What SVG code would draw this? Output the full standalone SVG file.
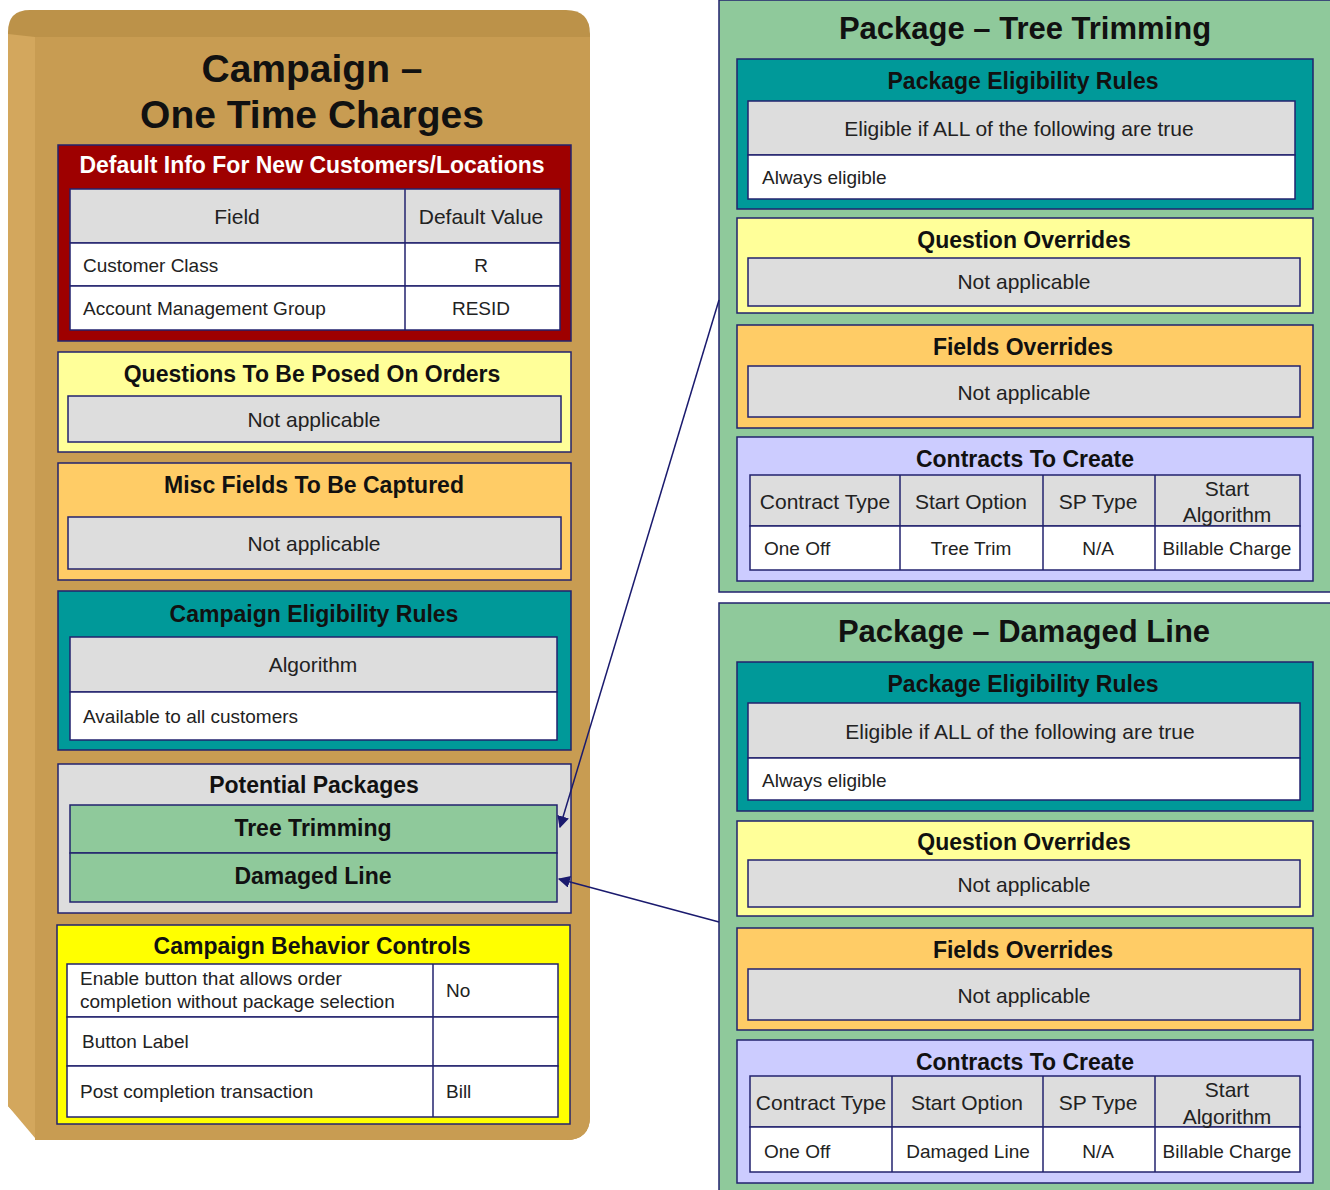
<svg xmlns="http://www.w3.org/2000/svg" width="1330" height="1190" viewBox="0 0 1330 1190">
<defs>
<style>
text{font-family:"Liberation Sans",Arial,sans-serif;dominant-baseline:central}
.ttl{font-size:23px;font-weight:bold;fill:#111;text-anchor:middle}
.big{font-size:39px;font-weight:bold;fill:#111;text-anchor:middle}
.pk{font-size:31px;font-weight:bold;fill:#111;text-anchor:middle}
.hd{font-size:21px;fill:#222;text-anchor:middle}
.bd{font-size:19px;fill:#222}
.bdc{font-size:19px;fill:#222;text-anchor:middle}
.bx{stroke:#22226e;stroke-width:1.5}
.gray{fill:#DDDDDD}
.white{fill:#FFFFFF}
.ly{fill:#FFFF99}
.or{fill:#FFCC66}
.teal{fill:#009999}
.grn{fill:#8FC99B}
.lav{fill:#CCCCFF}
.conn{stroke:#1a1a6e;stroke-width:1.5;fill:none}
</style>
<marker id="ah" viewBox="0 0 10 10" refX="9" refY="5" markerWidth="12" markerHeight="12" markerUnits="userSpaceOnUse" orient="auto">
<path d="M0,0 L10,5 L0,10 Z" fill="#1a1a6e"/>
</marker>
</defs>

<g id="campaign">
<path d="M30 10 L566 10 Q590 10 590 34 L590 1116 Q590 1140 566 1140 L42 1140 L8 1106 L8 32 Q8 10 30 10 Z" fill="#BC9249"/>
<path d="M8 34 L35 37 L35 1138 L8 1106 Z" fill="#D3A75D"/>
<path d="M35 37 L590 37 L590 1116 Q590 1140 566 1140 L35 1140 Z" fill="#C89C52"/>
<text class="big" x="312" y="68">Campaign –</text>
<text class="big" x="312" y="114">One Time Charges</text>
</g>

<g id="default-info">
<rect class="bx" x="58" y="145" width="513" height="196" fill="#9E0000"/>
<text class="ttl" x="312" y="165" style="fill:#fff">Default Info For New Customers/Locations</text>
<rect class="bx gray" x="70" y="189" width="490" height="54"/>
<rect class="bx white" x="70" y="243" width="490" height="43"/>
<rect class="bx white" x="70" y="286" width="490" height="44"/>
<line class="bx" x1="405" y1="189" x2="405" y2="330"/>
<text class="hd" x="237" y="216">Field</text>
<text class="hd" x="481" y="216">Default Value</text>
<text class="bd" x="83" y="265">Customer Class</text>
<text class="bdc" x="481" y="265">R</text>
<text class="bd" x="83" y="308">Account Management Group</text>
<text class="bdc" x="481" y="308">RESID</text>
</g>

<g id="questions">
<rect class="bx ly" x="58" y="352" width="513" height="100"/>
<text class="ttl" x="312" y="374">Questions To Be Posed On Orders</text>
<rect class="bx gray" x="68" y="396" width="493" height="46"/>
<text class="hd" x="314" y="419">Not applicable</text>
</g>

<g id="misc-fields">
<rect class="bx or" x="58" y="463" width="513" height="117"/>
<text class="ttl" x="314" y="485">Misc Fields To Be Captured</text>
<rect class="bx gray" x="68" y="517" width="493" height="52"/>
<text class="hd" x="314" y="543">Not applicable</text>
</g>

<g id="campaign-eligibility">
<rect class="bx teal" x="58" y="591" width="513" height="159"/>
<text class="ttl" x="314" y="614">Campaign Eligibility Rules</text>
<rect class="bx gray" x="70" y="637" width="487" height="55"/>
<rect class="bx white" x="70" y="692" width="487" height="48"/>
<text class="hd" x="313" y="664">Algorithm</text>
<text class="bd" x="83" y="716">Available to all customers</text>
</g>

<g id="potential-packages">
<rect class="bx gray" x="58" y="764" width="513" height="149"/>
<text class="ttl" x="314" y="785">Potential Packages</text>
<rect class="bx grn" x="70" y="805" width="487" height="48"/>
<rect class="bx grn" x="70" y="853" width="487" height="49"/>
<text class="ttl" x="313" y="828">Tree Trimming</text>
<text class="ttl" x="313" y="876">Damaged Line</text>
</g>

<g id="behavior-controls">
<rect class="bx" x="57" y="925" width="513" height="199" fill="#FFFF00"/>
<text class="ttl" x="312" y="946">Campaign Behavior Controls</text>
<rect class="bx white" x="67" y="964" width="491" height="53"/>
<rect class="bx white" x="67" y="1017" width="491" height="49"/>
<rect class="bx white" x="67" y="1066" width="491" height="51"/>
<line class="bx" x1="433" y1="964" x2="433" y2="1117"/>
<text class="bd" x="80" y="978">Enable button that allows order</text>
<text class="bd" x="80" y="1001">completion without package selection</text>
<text class="bd" x="446" y="990">No</text>
<text class="bd" x="82" y="1041">Button Label</text>
<text class="bd" x="80" y="1091">Post completion transaction</text>
<text class="bd" x="446" y="1091">Bill</text>
</g>

<g id="package-tree-trimming">
<rect class="bx grn" x="719" y="0" width="615" height="592"/>
<text class="pk" x="1025" y="28">Package – Tree Trimming</text>
<rect class="bx teal" x="737" y="59" width="576" height="150"/>
<text class="ttl" x="1023" y="81">Package Eligibility Rules</text>
<rect class="bx gray" x="748" y="101" width="547" height="54"/>
<rect class="bx white" x="748" y="155" width="547" height="44"/>
<text class="hd" x="1019" y="128">Eligible if ALL of the following are true</text>
<text class="bd" x="762" y="177">Always eligible</text>
<rect class="bx ly" x="737" y="218" width="576" height="95"/>
<text class="ttl" x="1024" y="240">Question Overrides</text>
<rect class="bx gray" x="748" y="258" width="552" height="48"/>
<text class="hd" x="1024" y="281">Not applicable</text>
<rect class="bx or" x="737" y="325" width="576" height="103"/>
<text class="ttl" x="1023" y="347">Fields Overrides</text>
<rect class="bx gray" x="748" y="366" width="552" height="51"/>
<text class="hd" x="1024" y="392">Not applicable</text>
<rect class="bx lav" x="737" y="437" width="576" height="144"/>
<text class="ttl" x="1025" y="459">Contracts To Create</text>
<rect class="bx gray" x="750" y="475" width="550" height="51"/>
<rect class="bx white" x="750" y="526" width="550" height="44"/>
<line class="bx" x1="900" y1="475" x2="900" y2="570"/>
<line class="bx" x1="1043" y1="475" x2="1043" y2="570"/>
<line class="bx" x1="1155" y1="475" x2="1155" y2="570"/>
<text class="hd" x="825" y="501">Contract Type</text>
<text class="hd" x="971" y="501">Start Option</text>
<text class="hd" x="1098" y="501">SP Type</text>
<text class="hd" x="1227" y="488">Start</text>
<text class="hd" x="1227" y="514">Algorithm</text>
<text class="bd" x="764" y="548">One Off</text>
<text class="bdc" x="971" y="548">Tree Trim</text>
<text class="bdc" x="1098" y="548">N/A</text>
<text class="bdc" x="1227" y="548">Billable Charge</text>
</g>

<g id="package-damaged-line">
<rect class="bx grn" x="719" y="603" width="615" height="592"/>
<text class="pk" x="1024" y="631">Package – Damaged Line</text>
<rect class="bx teal" x="737" y="662" width="576" height="149"/>
<text class="ttl" x="1023" y="684">Package Eligibility Rules</text>
<rect class="bx gray" x="748" y="703" width="552" height="55"/>
<rect class="bx white" x="748" y="758" width="552" height="42"/>
<text class="hd" x="1020" y="731">Eligible if ALL of the following are true</text>
<text class="bd" x="762" y="780">Always eligible</text>
<rect class="bx ly" x="737" y="821" width="576" height="95"/>
<text class="ttl" x="1024" y="842">Question Overrides</text>
<rect class="bx gray" x="748" y="860" width="552" height="47"/>
<text class="hd" x="1024" y="884">Not applicable</text>
<rect class="bx or" x="737" y="928" width="576" height="102"/>
<text class="ttl" x="1023" y="950">Fields Overrides</text>
<rect class="bx gray" x="748" y="969" width="552" height="51"/>
<text class="hd" x="1024" y="995">Not applicable</text>
<rect class="bx lav" x="737" y="1040" width="576" height="143"/>
<text class="ttl" x="1025" y="1062">Contracts To Create</text>
<rect class="bx gray" x="750" y="1076" width="550" height="51"/>
<rect class="bx white" x="750" y="1127" width="550" height="45"/>
<line class="bx" x1="892" y1="1076" x2="892" y2="1172"/>
<line class="bx" x1="1043" y1="1076" x2="1043" y2="1172"/>
<line class="bx" x1="1155" y1="1076" x2="1155" y2="1172"/>
<text class="hd" x="821" y="1102">Contract Type</text>
<text class="hd" x="967" y="1102">Start Option</text>
<text class="hd" x="1098" y="1102">SP Type</text>
<text class="hd" x="1227" y="1089">Start</text>
<text class="hd" x="1227" y="1116">Algorithm</text>
<text class="bd" x="764" y="1151">One Off</text>
<text class="bdc" x="968" y="1151">Damaged Line</text>
<text class="bdc" x="1098" y="1151">N/A</text>
<text class="bdc" x="1227" y="1151">Billable Charge</text>
</g>

<g id="connectors">
<line class="conn" x1="719" y1="300" x2="560" y2="827" marker-end="url(#ah)"/>
<line class="conn" x1="719" y1="922" x2="559" y2="879" marker-end="url(#ah)"/>
</g>
</svg>
